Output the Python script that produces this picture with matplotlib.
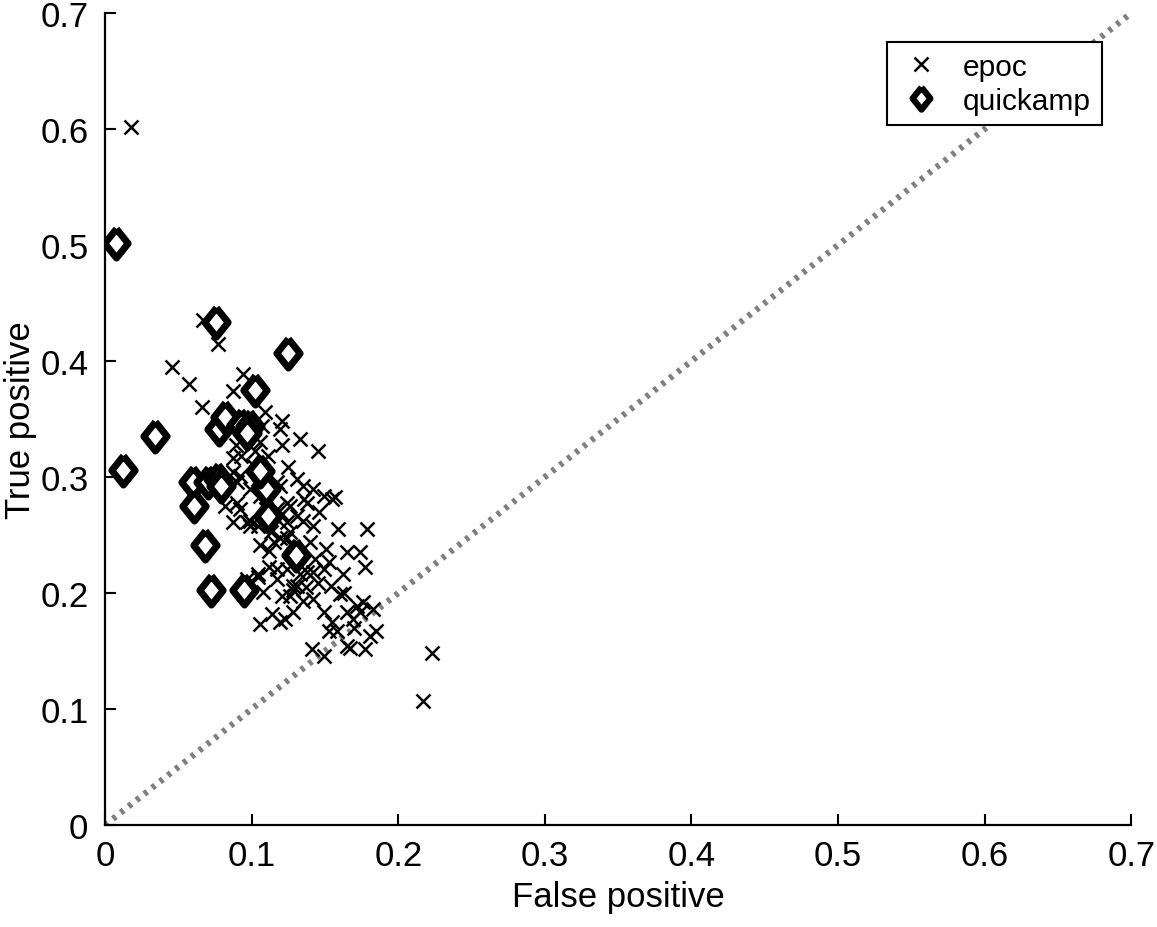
import matplotlib
matplotlib.use("Agg")
import matplotlib.pyplot as plt

plt.rcParams["font.family"] = ["Liberation Sans", "DejaVu Sans"]

# epoc points (false positive, true positive)
epoc_fp = [
    0.018, 0.223, 0.217, 0.046, 0.057, 0.066, 0.067, 0.077, 0.094, 0.087,
    0.109, 0.121, 0.145, 0.125, 0.121, 0.119, 0.107, 0.089, 0.093, 0.087,
    0.102, 0.106, 0.159, 0.179, 0.165, 0.174, 0.177, 0.157, 0.149, 0.142,
    0.141, 0.149, 0.165, 0.167, 0.177, 0.185, 0.181, 0.176, 0.174, 0.162,
    0.155, 0.153, 0.123, 0.128, 0.142, 0.160, 0.165, 0.135, 0.128, 0.142,
    0.133, 0.106, 0.119, 0.114, 0.126, 0.131, 0.104, 0.112, 0.117, 0.145,
    0.149, 0.153, 0.143, 0.138, 0.130, 0.124, 0.115, 0.106, 0.099, 0.092,
    0.110, 0.124, 0.136, 0.155, 0.108, 0.099, 0.117, 0.135, 0.090, 0.117,
    0.131, 0.142, 0.140, 0.151, 0.172, 0.183, 0.158, 0.169, 0.149, 0.121,
    0.108, 0.131, 0.138, 0.126, 0.082, 0.090, 0.106, 0.099, 0.087, 0.115,
    0.092, 0.087, 0.097, 0.104, 0.112, 0.119, 0.126, 0.097, 0.104, 0.117,
    0.124, 0.128, 0.104, 0.119, 0.117, 0.124, 0.133, 0.113, 0.121, 0.128,
    0.135, 0.101, 0.111, 0.146, 0.137, 0.154, 0.163, 0.170,
]
epoc_tp = [
    0.602, 0.148, 0.107, 0.395, 0.380, 0.360, 0.435, 0.415, 0.389, 0.374,
    0.356, 0.348, 0.322, 0.309, 0.328, 0.341, 0.344, 0.328, 0.318, 0.316,
    0.322, 0.330, 0.255, 0.255, 0.235, 0.235, 0.222, 0.283, 0.284, 0.290,
    0.152, 0.146, 0.154, 0.153, 0.152, 0.167, 0.163, 0.192, 0.184, 0.216,
    0.175, 0.167, 0.178, 0.184, 0.195, 0.199, 0.184, 0.193, 0.203, 0.218,
    0.216, 0.173, 0.175, 0.182, 0.197, 0.206, 0.214, 0.222, 0.221, 0.209,
    0.221, 0.227, 0.229, 0.218, 0.232, 0.247, 0.244, 0.241, 0.262, 0.272,
    0.272, 0.278, 0.281, 0.281, 0.298, 0.290, 0.296, 0.292, 0.296, 0.264,
    0.266, 0.258, 0.244, 0.238, 0.189, 0.186, 0.167, 0.178, 0.184, 0.197,
    0.201, 0.298, 0.278, 0.275, 0.275, 0.278, 0.284, 0.258, 0.261, 0.266,
    0.301, 0.304, 0.261, 0.258, 0.236, 0.247, 0.253, 0.212, 0.216, 0.212,
    0.221, 0.206, 0.298, 0.292, 0.272, 0.261, 0.333, 0.253, 0.268, 0.240,
    0.262, 0.310, 0.318, 0.270, 0.205, 0.206, 0.200, 0.170,
]

# quickamp points
quick_fp = [
    0.0075, 0.012, 0.034, 0.076, 0.125, 0.102, 0.078, 0.082, 0.093, 0.099,
    0.097, 0.060, 0.061, 0.070, 0.077, 0.079, 0.068, 0.072, 0.095, 0.110,
    0.111, 0.130, 0.106,
]
quick_tp = [
    0.502, 0.306, 0.335, 0.434, 0.407, 0.375, 0.341, 0.352, 0.345, 0.344,
    0.338, 0.296, 0.275, 0.296, 0.298, 0.292, 0.241, 0.203, 0.203, 0.290,
    0.266, 0.233, 0.305,
]

ticks = [0, 0.1, 0.2, 0.3, 0.4, 0.5, 0.6, 0.7]
tick_labels = ["0", "0.1", "0.2", "0.3", "0.4", "0.5", "0.6", "0.7"]

fig = plt.figure(figsize=(11.57, 9.28), dpi=100)
ax = fig.add_axes([0.0908, 0.1099, 0.887, 0.875])

ax.plot([0, 0.7], [0, 0.7], linestyle=(0, (0.6, 1.0)), color="#7f7f7f",
        linewidth=4.5, zorder=1)

ax.plot(epoc_fp, epoc_tp, linestyle="none", marker="x", color="black",
        markersize=10, markeredgewidth=1.8, label="epoc", zorder=2)

diamond = [(0, 1), (0.8, 0), (0, -1), (-0.8, 0), (0, 1)]
ax.plot(quick_fp, quick_tp, linestyle="none", marker=diamond,
        markerfacecolor="white", markeredgecolor="black", markersize=21,
        markeredgewidth=5, label="quickamp", zorder=3)

ax.set_xlim(0, 0.7)
ax.set_ylim(0, 0.7)
ax.set_xticks(ticks)
ax.set_xticklabels(tick_labels)
ax.set_yticks(ticks)
ax.set_yticklabels(tick_labels)
ax.spines["top"].set_visible(False)
ax.spines["right"].set_visible(False)
ax.spines["left"].set_linewidth(1.6)
ax.spines["bottom"].set_linewidth(1.6)
ax.tick_params(direction="in", length=8, width=1.5, labelsize=25)
ax.tick_params(axis="x", pad=10)
ax.tick_params(axis="y", pad=12)

ax.set_xlabel("False positive", fontsize=25, labelpad=6)
ax.set_ylabel("True positive", fontsize=25, labelpad=2)

leg = ax.legend(loc="upper right", bbox_to_anchor=(0.971, 0.964),
                fontsize=21.5, fancybox=False, framealpha=1, edgecolor="black",
                borderpad=0.35, handletextpad=0.6, labelspacing=0.2,
                handlelength=1.6, borderaxespad=0)
leg.get_frame().set_linewidth(1.5)
leg.legend_handles[1].set_markersize(16)
leg.legend_handles[1].set_markeredgewidth(4.5)

fig.savefig("out.png", dpi=100)
